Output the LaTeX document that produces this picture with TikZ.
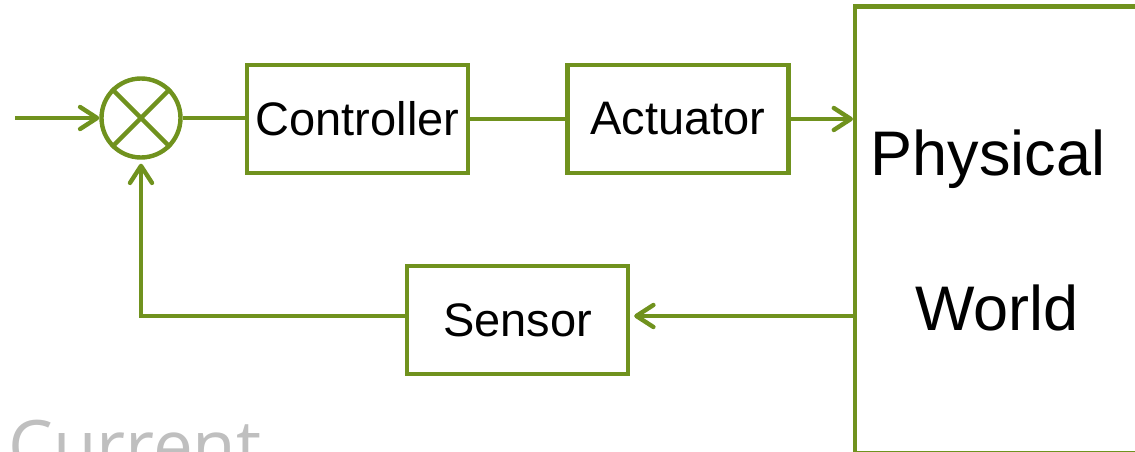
\documentclass[tikz,border=0pt]{standalone}
\usepackage{fontspec}
\setmainfont{Liberation Sans}
\newfontfamily\curfont{Open Sans}
\usetikzlibrary{arrows.meta}
\definecolor{lg}{RGB}{112,146,30}
\definecolor{cg}{RGB}{191,191,191}
\begin{document}
\begin{tikzpicture}[x=1pt,y=-1pt,
  blk/.style={draw=lg, line width=4.4pt, minimum width=221pt, minimum height=108pt, inner sep=0pt, font=\fontsize{47}{50}\selectfont},
  conn/.style={draw=lg, line width=4.4pt},
  arr/.style={conn, -{Straight Barb[length=17pt,width=22pt,round]}}]
\useasboundingbox (0,0) rectangle (1135,452);
\clip (0,0) rectangle (1135,452);
\node[circle, draw=lg, line width=4.4pt, minimum size=79pt, inner sep=0pt] (sum) at (141,118) {};
\draw[conn] (sum.north east) -- (sum.south west);
\draw[conn] (sum.north west) -- (sum.south east);
\coordinate (in) at (15,118);
\draw[arr] (in) -- (sum.west);
\node[blk] (ctrl) at (357.5,119) {Controller};
\node[blk] (act) at (678,119) {Actuator};
\node[blk] (sens) at (517.5,320) {Sensor};
\node[draw=lg, line width=4.4pt, minimum width=300pt, minimum height=446pt, anchor=north west, inner sep=0pt] (phys) at (853,4.5) {};
\node[font=\fontsize{63}{66}\selectfont, anchor=base, inner sep=0pt] (physt) at (988,175) {Physical};
\node[font=\fontsize{63}{66}\selectfont, anchor=base, inner sep=0pt] (worldt) at (997,330) {World};
\draw[conn] (sum.east) -- (sum.east -| ctrl.west);
\draw[conn] (ctrl.east) -- (ctrl.east -| act.west);
\draw[arr] (act.east) -- (act.east -| phys.west);
\coordinate (fb) at (853,316);
\draw[arr, shorten >=4pt] (fb) -- (fb -| sens.east);
\draw[arr, shorten >=4pt] (fb -| sens.west) -- (fb -| sum) -- (sum.south);
\node[text=cg, font=\curfont\fontsize{71}{73}\selectfont, anchor=base west, inner sep=0pt] (cur) at (8,471) {Current};
\end{tikzpicture}
\end{document}
